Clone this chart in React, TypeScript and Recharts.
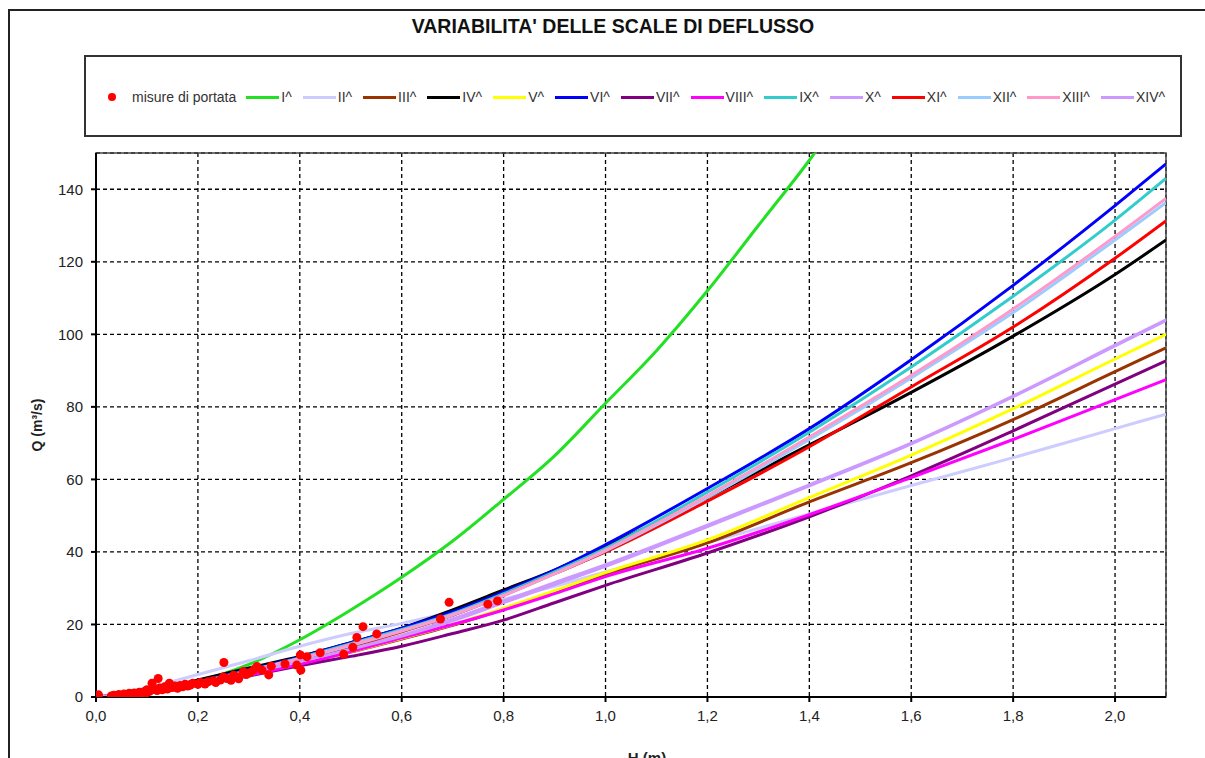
import React from "react";
import {
  CartesianGrid,
  ComposedChart,
  Line,
  ReferenceArea,
  Scatter,
  XAxis,
  YAxis,
} from "recharts";

const FONT = '"Liberation Sans", Arial, sans-serif';

// stage heights (m) where the rating curves were read
const H_STEPS = [0, 0.1, 0.2, 0.3, 0.4, 0.5, 0.6, 0.7, 0.8, 0.9, 1.0, 1.2, 1.4, 1.6, 1.8, 2.0, 2.1];
const H_FIRST = [0, 0.1, 0.2, 0.3, 0.4, 0.5, 0.6, 0.7, 0.8, 0.9, 1.0, 1.1, 1.2, 1.3, 1.4, 1.5];

const Q_I = [0, 1.5, 4.3, 9, 15.8, 24, 33, 43, 54.5, 66.5, 81, 95.5, 112, 130, 148, 168];
const Q_II = [0, 2.5, 6.2, 10, 14, 17.5, 20.3, 23.5, 27, 30.5, 34.5, 42.5, 50.5, 58.3, 66, 74, 78];
const Q_III = [0, 1.1, 3.4, 6.2, 9.2, 12.4, 16, 19.8, 24.2, 28.8, 33.8, 42.5, 53.8, 64.6, 76.5, 89.7, 96.3];
const Q_IV = [0, 1.5, 4.7, 8, 11.2, 15, 19, 24, 29.5, 35, 41.5, 55, 69.5, 84, 99.5, 116.5, 126];
const Q_V = [0, 1.1, 3.5, 6.3, 9.3, 12.5, 16.2, 20, 24.5, 29.3, 34.3, 43.3, 55, 66.7, 79.5, 93.2, 100];
const Q_VI = [0, 1.3, 4.2, 7.5, 11, 15, 19, 23.5, 29, 35, 42, 57.5, 74, 93, 113.5, 135.5, 147];
const Q_VII = [0, 1, 3.2, 5.8, 8.6, 11.2, 14, 17.5, 21.2, 26, 30.8, 39.7, 49.7, 61, 73.4, 86.3, 92.7];
const Q_VIII = [0, 1.1, 3.4, 6, 9, 12.5, 16.3, 20, 24, 28.5, 33.2, 41, 50.3, 60.5, 71, 82, 87.5];
const Q_IX = [0, 1.3, 4.1, 7.3, 10.8, 14.7, 18.6, 23, 28.5, 34.5, 41, 56.5, 73, 91, 110.5, 131.5, 143];
const Q_X = [0, 1.3, 4, 7, 10, 13.5, 17, 21.5, 26.5, 31.5, 36.5, 47.4, 58.5, 70, 83, 97, 104];
const Q_XI = [0, 1.3, 4, 7, 10.4, 14, 18, 22.5, 28, 34, 40, 54, 69, 85.5, 102, 121, 131.3];
const Q_XII = [0, 1.3, 4, 7.1, 10.5, 14.2, 18.2, 22.6, 28, 34, 40.3, 55, 71, 88, 106, 126, 136.3];
const Q_XIII = [0, 1.3, 4, 7.2, 10.6, 14.4, 18.3, 22.7, 28, 34, 40.5, 55.5, 71.7, 88.7, 107, 127, 137.5];
const Q_XIV = [0, 1.2, 3.8, 6.8, 9.8, 13.2, 16.8, 21, 26, 31, 36, 47, 58.2, 69.8, 82.8, 96.8, 103.8];

// discharge measurements
const MEAS_H = [
  0.005, 0.03, 0.035, 0.04, 0.045, 0.05, 0.055, 0.06, 0.065, 0.07, 0.075, 0.08, 0.085, 0.09, 0.095,
  0.1, 0.1, 0.105, 0.11, 0.115, 0.12, 0.122, 0.125, 0.13, 0.135, 0.14, 0.144, 0.15, 0.155, 0.16,
  0.165, 0.17, 0.175, 0.18, 0.185, 0.19, 0.2, 0.205, 0.214, 0.22, 0.23, 0.235, 0.244, 0.25, 0.251,
  0.257, 0.265, 0.27, 0.276, 0.28, 0.289, 0.295, 0.302, 0.31, 0.316, 0.326, 0.339, 0.344, 0.371,
  0.394, 0.401, 0.402, 0.414, 0.44, 0.486, 0.504, 0.512, 0.524, 0.551, 0.676, 0.693, 0.769, 0.788,
];
const MEAS_Q = [
  0.6, 0.3, 0.5, 0.4, 0.7, 0.5, 0.8, 0.6, 1.0, 0.8, 1.1, 0.9, 1.3, 1.0, 1.5,
  1.2, 2.0, 1.6, 3.8, 2.2, 1.8, 5.1, 2.5, 2.0, 2.8, 2.2, 3.8, 2.6, 3.0, 2.4,
  3.2, 2.8, 3.5, 3.0, 3.3, 3.8, 3.5, 4.0, 3.6, 4.2, 4.5, 4.0, 4.7, 5.5, 9.5,
  5.1, 4.6, 6.0, 5.6, 5.0, 7.0, 6.2, 6.7, 7.5, 8.4, 7.4, 6.1, 8.5, 9.1,
  8.8, 11.6, 7.4, 11.1, 12.2, 11.8, 13.7, 16.4, 19.4, 17.4, 21.5, 26.1, 25.6, 26.5,
];

const X_TICKS = [0, 0.2, 0.4, 0.6, 0.8, 1.0, 1.2, 1.4, 1.6, 1.8, 2.0];
const Y_TICKS = [0, 20, 40, 60, 80, 100, 120, 140];

const zip = (h: number[], q: number[]) => h.map((v, i) => ({ h: v, q: q[i] }));

const curves = [
  { name: "I^", color: "#22e022", data: zip(H_FIRST, Q_I) },
  { name: "II^", color: "#ccccff", data: zip(H_STEPS, Q_II) },
  { name: "III^", color: "#993300", data: zip(H_STEPS, Q_III) },
  { name: "IV^", color: "#000000", data: zip(H_STEPS, Q_IV) },
  { name: "V^", color: "#ffff00", data: zip(H_STEPS, Q_V) },
  { name: "VI^", color: "#0000ff", data: zip(H_STEPS, Q_VI) },
  { name: "VII^", color: "#800080", data: zip(H_STEPS, Q_VII) },
  { name: "VIII^", color: "#ff00ff", data: zip(H_STEPS, Q_VIII) },
  { name: "IX^", color: "#33cccc", data: zip(H_STEPS, Q_IX) },
  { name: "X^", color: "#cc99ff", data: zip(H_STEPS, Q_X) },
  { name: "XI^", color: "#ff0000", data: zip(H_STEPS, Q_XI) },
  { name: "XII^", color: "#99ccff", data: zip(H_STEPS, Q_XII) },
  { name: "XIII^", color: "#ff99cc", data: zip(H_STEPS, Q_XIII) },
  { name: "XIV^", color: "#cc99ff", data: zip(H_STEPS, Q_XIV) },
];

const measures = zip(MEAS_H, MEAS_Q);

const fmtH = (v: number) => v.toFixed(1).replace(".", ",");

function LegendBox() {
  return (
    <div
      style={{
        position: "absolute",
        left: 84,
        top: 55,
        width: 1098,
        height: 82,
        border: "2px solid #333",
        display: "flex",
        alignItems: "center",
        paddingLeft: 22,
        paddingTop: 2,
        boxSizing: "border-box",
        fontFamily: FONT,
        fontSize: 14,
        color: "#333",
        whiteSpace: "nowrap",
      }}
    >
      <span style={{ flexShrink: 0, width: 8, height: 8, borderRadius: 4, background: "#ff0000", marginRight: 16 }} />
      <span style={{ flexShrink: 0, marginRight: 10 }}>misure di portata</span>
      {curves.map((c) => (
        <span key={c.name} style={{ flexShrink: 0, display: "flex", alignItems: "center", marginRight: 11 }}>
          <span style={{ width: 33, height: 3, background: c.color, marginRight: 2 }} />
          <span>{c.name}</span>
        </span>
      ))}
    </div>
  );
}

export default function App() {
  return (
    <div style={{ position: "absolute", left: 0, top: 0, width: 1205, height: 758, background: "#fff", overflow: "hidden" }}>
      <div
        style={{
          position: "absolute",
          left: 8,
          top: 9,
          width: 1205,
          height: 760,
          borderLeft: "2px solid #222",
          borderTop: "2px solid #222",
        }}
      />
      <div
        style={{
          position: "absolute",
          left: 0,
          top: 15,
          width: 1226,
          textAlign: "center",
          fontFamily: FONT,
          fontWeight: "bold",
          fontSize: 19.5,
          color: "#111",
        }}
      >
        VARIABILITA' DELLE SCALE DI DEFLUSSO
      </div>
      <LegendBox />
      <div style={{ position: "absolute", left: 0, top: 0 }}>
        <ComposedChart
          width={1205}
          height={758}
          margin={{ top: 153, right: 39, bottom: 0, left: 46 }}
          style={{ fontFamily: FONT }}
        >
          <CartesianGrid stroke="#000" strokeDasharray="4 3" strokeWidth={1.3} />
          <XAxis
            type="number"
            dataKey="h"
            domain={[0, 2.1]}
            ticks={X_TICKS}
            tickFormatter={fmtH}
            allowDataOverflow
            height={61}
            tickSize={5}
            tickMargin={8}
            stroke="#000"
            strokeWidth={2}
            tick={{ fill: "#222", fontSize: 15 }}
            label={{
              value: "H (m)",
              position: "insideBottom",
              offset: -5,
              dx: 16,
              style: { fontWeight: "bold", fontSize: 15, fill: "#222" },
            }}
          />
          <YAxis
            type="number"
            domain={[0, 150]}
            ticks={Y_TICKS}
            allowDataOverflow
            width={50}
            tickSize={5}
            tickMargin={8}
            stroke="#000"
            strokeWidth={2}
            tick={{ fill: "#222", fontSize: 15 }}
            label={{
              value: "Q (m³/s)",
              angle: -90,
              position: "insideLeft",
              offset: -9,
              style: { fontWeight: "bold", fontSize: 14, fill: "#222", textAnchor: "middle" },
            }}
          />
          <ReferenceArea x1={0} x2={2.1} y1={0} y2={150} fill="none" stroke="#444" strokeWidth={1.5} />
          {curves.map((c) => (
            <Line
              key={c.name}
              data={c.data}
              dataKey="q"
              name={c.name}
              type="monotone"
              stroke={c.color}
              strokeWidth={3}
              dot={false}
              isAnimationActive={false}
            />
          ))}
          <Scatter
            data={measures}
            dataKey="q"
            name="misure di portata"
            fill="#ff0000"
            isAnimationActive={false}
            shape={(p: any) => <circle cx={p.cx} cy={p.cy} r={4.5} fill="#ff0000" />}
          />
        </ComposedChart>
      </div>
    </div>
  );
}
